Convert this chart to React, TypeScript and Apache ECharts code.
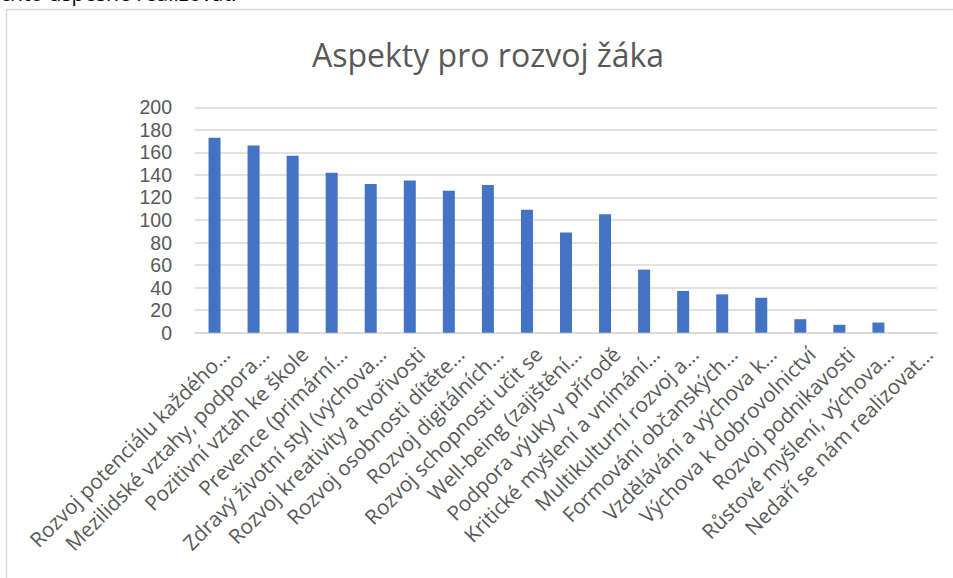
import React, { useEffect, useRef } from "react";
import * as echarts from "echarts";

const categories: string[] = [
  "Rozvoj potenciálu každého…",
  "Mezilidské vztahy, podpora…",
  "Pozitivní vztah ke škole",
  "Prevence (primární…",
  "Zdravý životní styl (výchova…",
  "Rozvoj kreativity a tvořivosti",
  "Rozvoj osobnosti dítěte…",
  "Rozvoj digitálních…",
  "Rozvoj schopnosti učit se",
  "Well-being (zajištění…",
  "Podpora výuky v přírodě",
  "Kritické myšlení a vnímání…",
  "Multikulturní rozvoj a…",
  "Formování občanských…",
  "Vzdělávání a výchova k…",
  "Výchova k dobrovolnictví",
  "Rozvoj podnikavosti",
  "Růstové myšlení, výchova…",
  "Nedaří se nám realizovat…",
];

const values: number[] = [173, 166, 157, 142, 132, 135, 126, 131, 109, 89, 105, 56, 37, 34, 31, 12, 7, 9, 0];

const yTicks = { min: 0, max: 200, interval: 20 };

const titleText = "Aspekty pro rozvoj žáka";
const topText = "chto úspěšně realizovat.";

export default function App() {
  const ref = useRef<HTMLDivElement>(null);
  useEffect(() => {
    if (!ref.current) return;
    const chart = echarts.init(ref.current, undefined, { renderer: "svg" });
    const font = "'Open Sans', 'Noto Sans', sans-serif";
    chart.setOption({
      animation: false,
      backgroundColor: "#ffffff",
      textStyle: { fontFamily: font },
      title: {
        text: titleText,
        left: 307,
        top: 33,
        textStyle: { fontFamily: font, fontSize: 32, fontWeight: "normal", color: "#595959" },
      },
      graphic: [
        {
          type: "rect",
          shape: { x: 6.5, y: 9.5, width: 980, height: 600 },
          style: { fill: "none", stroke: "#d9d9d9", lineWidth: 1.5 },
          silent: true,
        },
        {
          type: "text",
          x: 0,
          y: -7,
          style: {
            text: topText,
            fill: "#000000",
            fontFamily: font,
            fontSize: 21,
            verticalAlign: "middle",
            align: "left",
          },
          silent: true,
        },
      ],
      grid: {
        left: 195,
        right: 16,
        top: 107.3,
        bottom: 245.3,
        containLabel: false,
        outerBoundsMode: "none",
      },
      xAxis: {
        type: "category",
        data: categories,
        axisLine: { show: true, lineStyle: { color: "#d9d9d9", width: 1.5 } },
        axisTick: { show: false },
        axisLabel: {
          interval: 0,
          rotate: 45,
          margin: 29,
          fontSize: 20.7,
          color: "#595959",
          fontFamily: font,
          padding: [0, -16, 0, 0],
        },
      },
      yAxis: {
        type: "value",
        min: yTicks.min,
        max: yTicks.max,
        interval: yTicks.interval,
        axisLine: { show: false },
        axisTick: { show: false },
        splitLine: { lineStyle: { color: "#d9d9d9", width: 1.5 } },
        axisLabel: {
          margin: 23,
          fontSize: 19.5,
          lineHeight: 20,
          color: "#595959",
          fontFamily: "'Liberation Sans', Arial, sans-serif",
        },
      },
      series: [
        {
          type: "bar",
          data: values,
          barWidth: 12,
          itemStyle: { color: "#4472c4" },
        },
      ],
    });
    return () => chart.dispose();
  }, []);
  return (
    <div
      ref={ref}
      style={{ position: "absolute", left: 0, top: 0, width: 953, height: 578 }}
    />
  );
}
